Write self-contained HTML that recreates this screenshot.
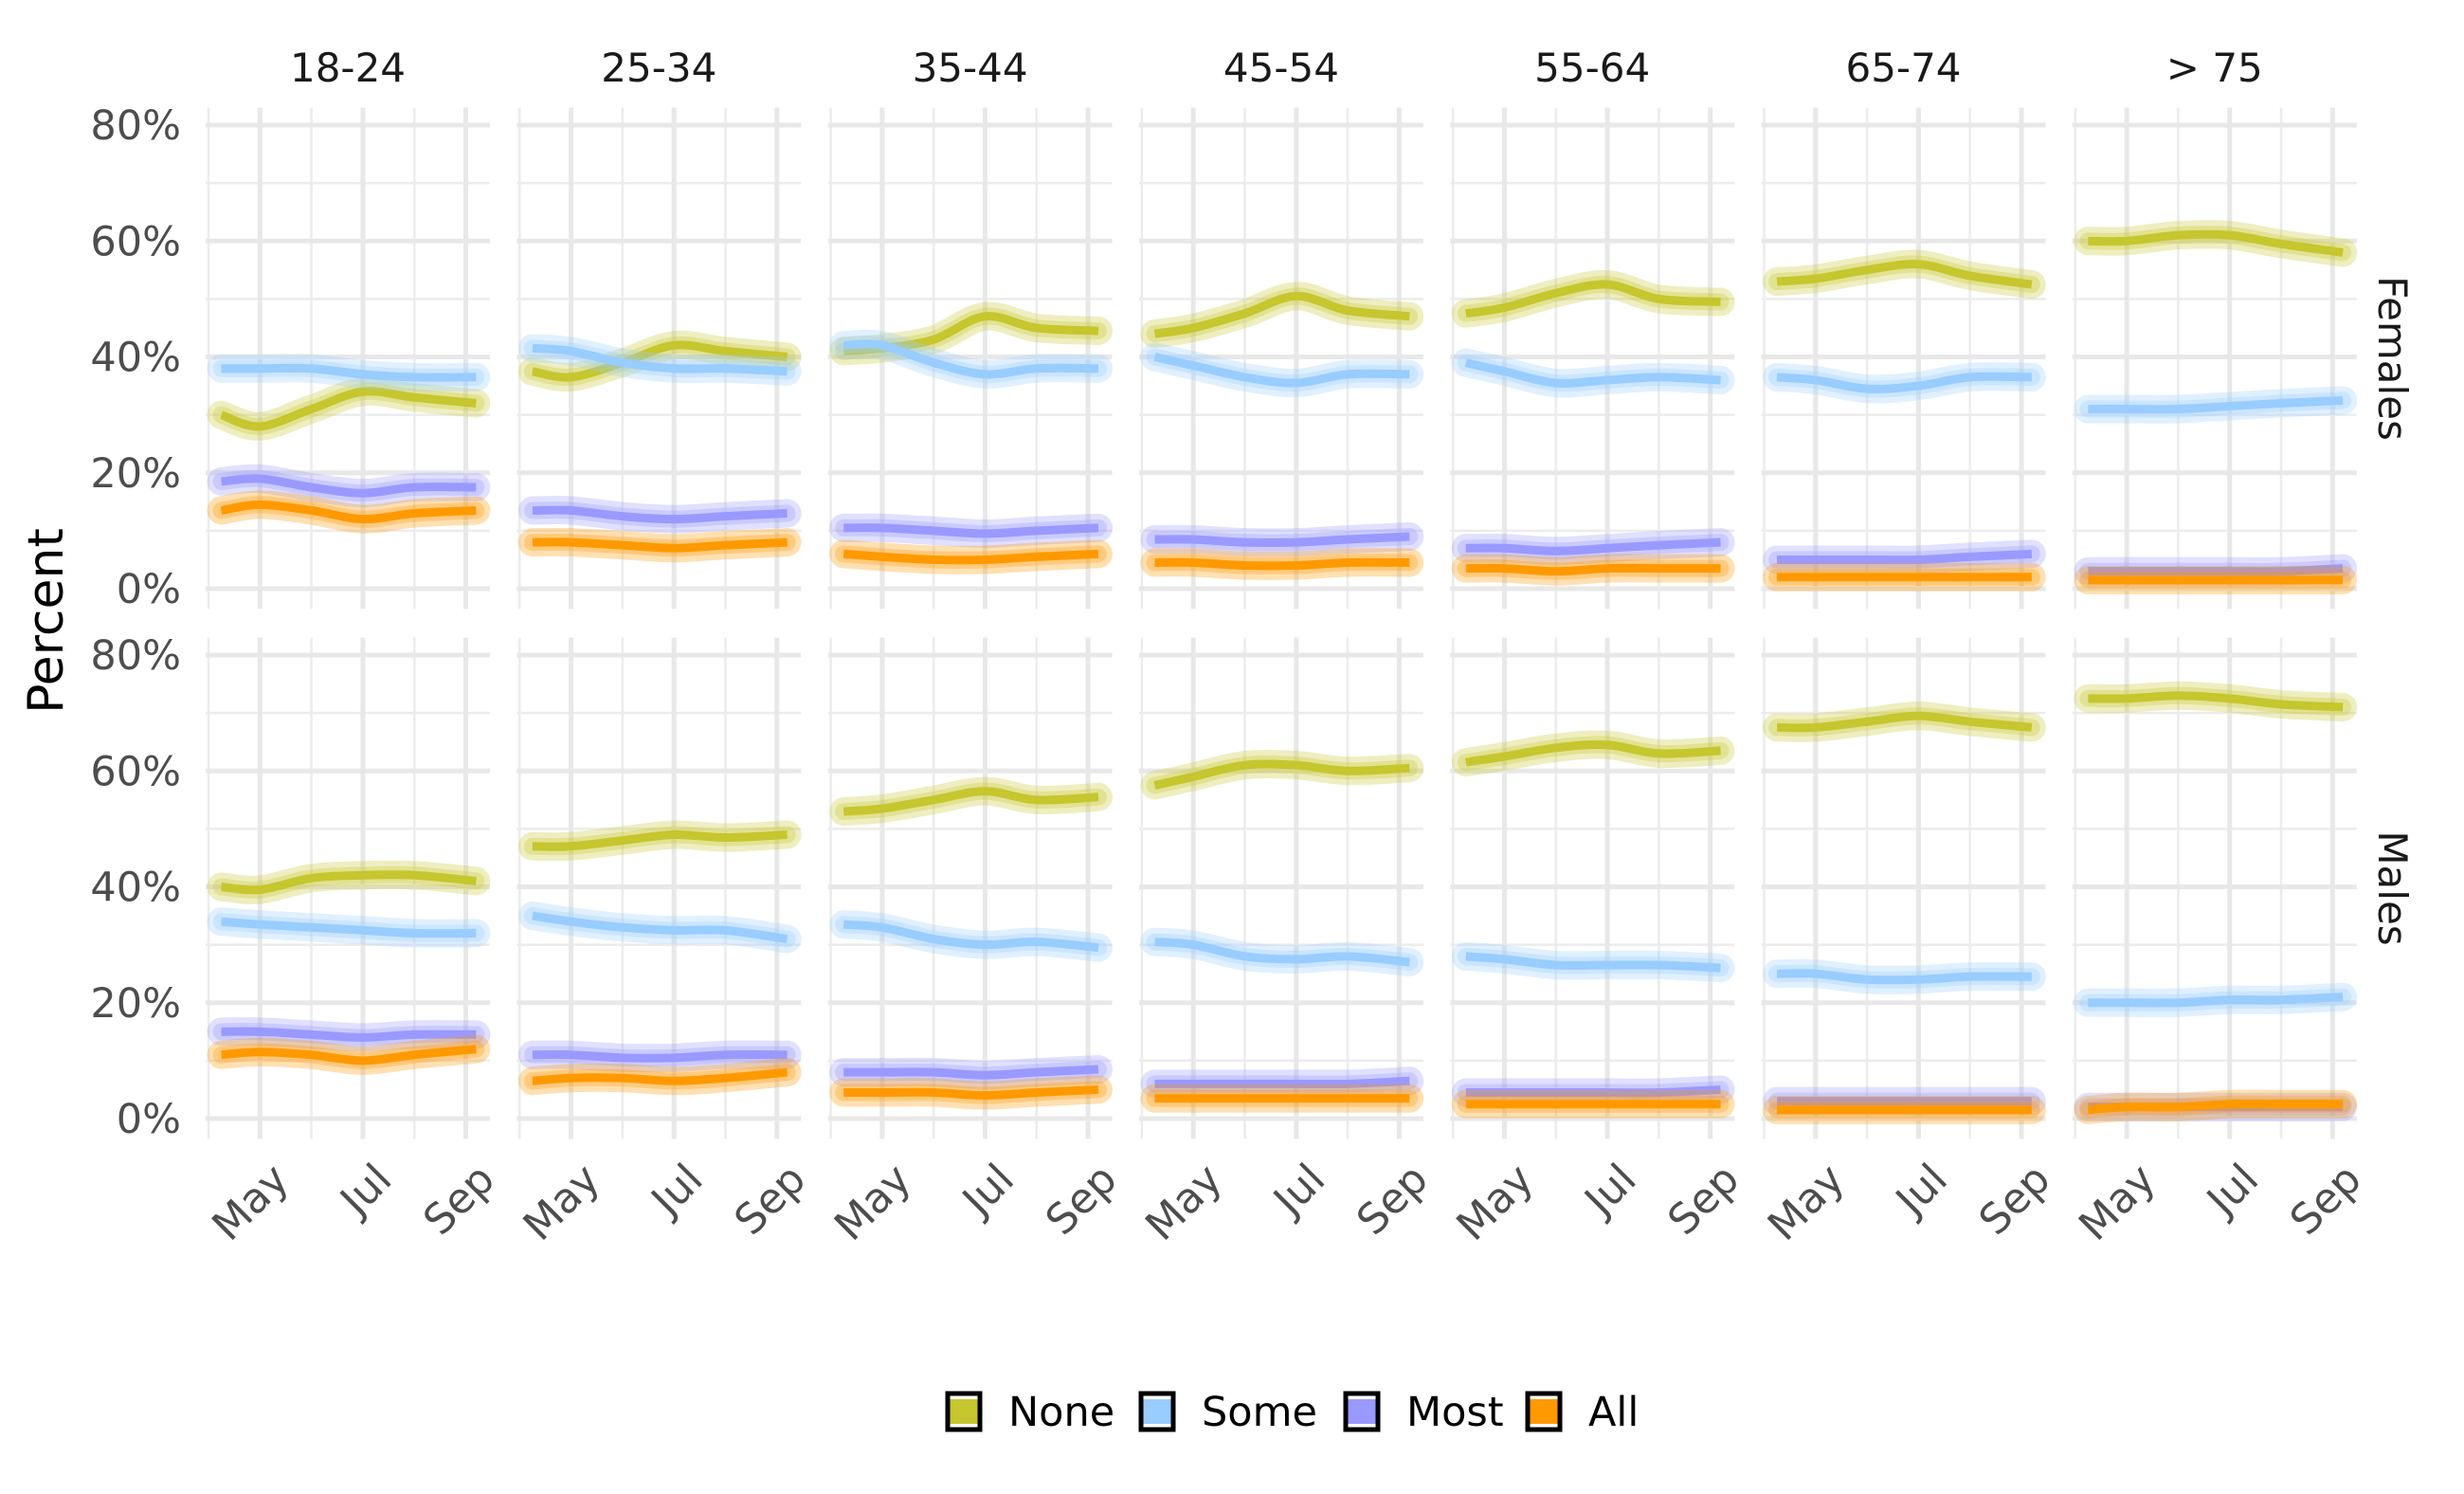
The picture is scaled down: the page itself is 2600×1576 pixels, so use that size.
<!DOCTYPE html>
<html><head><meta charset="utf-8">
<style>
html,body{margin:0;padding:0;background:#fff;}
svg{display:block;font-family:"DejaVu Sans","Liberation Sans",sans-serif;}
</style></head>
<body>
<svg id="chart" width="2600" height="1576" viewBox="0 0 2600 1576" xmlns="http://www.w3.org/2000/svg"></svg>
<script>
const ageGroups = ["18-24","25-34","35-44","45-54","55-64","65-74","> 75"];
const sexes = ["Females","Males"];
const categories = ["None","Some","Most","All"];
const colors = ["#c6c62e","#99ccff","#9999ff","#ff9900"];
const monthPoints = [0.25,1,2,3,4,5.2];
const yTicks = [0,20,40,60,80];
const yTickLabels = ["0%","20%","40%","60%","80%"];
const xTicks = [1,3,5];
const xTickLabels = ["May","Jul","Sep"];

// Females: [ageGroup][category]
const femNone = [[30,28,31,34,33,32],[37.5,36.5,39,42,41,40],[41,41.5,43,47,45,44.5],[44,45,47.5,50.5,48,47],[47.5,48.5,51,52.5,50,49.5],[53,53.5,55,56,54,52.5],[60,60,61,61,59.5,58]];
const femSome = [[38,38,38,37,36.5,36.5],[41.5,41,39,38,38,37.5],[42,42,39,37,38,38],[40,38.5,36.5,35.5,37,37],[39,37.5,35.5,36,36.5,36],[36.5,36,34.5,35,36.5,36.5],[31,31,31,31.5,32,32.5]];
const femMost = [[18.5,19,17.5,16.5,17.5,17.5],[13.5,13.5,12.5,12,12.5,13],[10.5,10.5,10,9.5,10,10.5],[8.5,8.5,8,8,8.5,9],[7,7,6.5,7,7.5,8],[5,5,5,5,5.5,6],[3,3,3,3,3,3.5]];
const femAll = [[13.5,14.5,13.5,12,13,13.5],[8,8,7.5,7,7.5,8],[6,5.5,5,5,5.5,6],[4.5,4.5,4,4,4.5,4.5],[3.5,3.5,3,3.5,3.5,3.5],[2,2,2,2,2,2],[1.5,1.5,1.5,1.5,1.5,1.5]];
// Males
const maleNone = [[40,39.5,41.5,42,42,41],[47,47,48,49,48.5,49],[53,53.5,55,56.5,55,55.5],[57.5,59,61,61,60,60.5],[61.5,62.5,64,64.5,63,63.5],[67.5,67.5,68.5,69.5,68.5,67.5],[72.5,72.5,73,72.5,71.5,71]];
const maleSome = [[34,33.5,33,32.5,32,32],[35,34,33,32.5,32.5,31],[33.5,33,31,30,30.5,29.5],[30.5,30,28,27.5,28,27],[28,27.5,26.5,26.5,26.5,26],[25,25,24,24,24.5,24.5],[20,20,20,20.5,20.5,21]];
const maleMost = [[15,15,14.5,14,14.5,14.5],[11,11,10.5,10.5,11,11],[8,8,8,7.5,8,8.5],[6,6,6,6,6,6.5],[4.5,4.5,4.5,4.5,4.5,5],[3,3,3,3,3,3],[2,2,2,2,2,2]];
const maleAll = [[11,11.5,11,10,11,12],[6.5,7,7,6.5,7,8],[4.5,4.5,4.5,4,4.5,5],[3.5,3.5,3.5,3.5,3.5,3.5],[2.5,2.5,2.5,2.5,2.5,2.5],[1.5,1.5,1.5,1.5,1.5,1.5],[1.5,2,2,2.5,2.5,2.5]];

const series = [[femNone,femSome,femMost,femAll],[maleNone,maleSome,maleMost,maleAll]];

const NS = "http://www.w3.org/2000/svg";
const svg = document.getElementById("chart");
function mk(tag, attrs, parent){const e=document.createElementNS(NS,tag);for(const k in attrs)e.setAttribute(k,attrs[k]);(parent||svg).appendChild(e);return e;}

const panelLeft0 = 217, panelPitch = 328.3, panelW = 300;
const rowZero = [621,1180], rowEighty = [132,691];
function xScale(col, t){return panelLeft0 + col*panelPitch + 3 + t*54.3;}
function yScale(row, v){return rowZero[row] - (rowZero[row]-rowEighty[row]) * v/80;}

function smoothPath(pts){
  let d = "M"+pts[0][0]+","+pts[0][1];
  for(let i=0;i<pts.length-1;i++){
    const p0=pts[Math.max(0,i-1)], p1=pts[i], p2=pts[i+1], p3=pts[Math.min(pts.length-1,i+2)];
    const c1x=p1[0]+(p2[0]-p0[0])/6, c1y=p1[1]+(p2[1]-p0[1])/6;
    const c2x=p2[0]-(p3[0]-p1[0])/6, c2y=p2[1]-(p3[1]-p1[1])/6;
    d += " C"+c1x+","+c1y+" "+c2x+","+c2y+" "+p2[0]+","+p2[1];
  }
  return d;
}

for(let r=0;r<2;r++){
  for(let c=0;c<ageGroups.length;c++){
    const g = mk("g",{});
    
    
    const left = panelLeft0 + c*panelPitch;
    const top = yScale(r,83), bot = yScale(r,-3.5);
    for(let v=10; v<=70; v+=20){
      const l=mk("line",{x1:left,x2:left+panelW,y1:yScale(r,v),y2:yScale(r,v),stroke:"#ececec","stroke-width":2.5},g);
      
      
    }
    for(let m=0; m<=4; m+=2){
      const l=mk("line",{x1:xScale(c,m),x2:xScale(c,m),y1:top,y2:bot,stroke:"#ececec","stroke-width":2.5},g);
      
      
    }
    for(const v of yTicks){
      const l=mk("line",{x1:left,x2:left+panelW,y1:yScale(r,v),y2:yScale(r,v),stroke:"#e8e8e8","stroke-width":5},g);
      
      
    }
    for(const m of xTicks){
      const l=mk("line",{x1:xScale(c,m),x2:xScale(c,m),y1:top,y2:bot,stroke:"#e8e8e8","stroke-width":5},g);
      
      
    }
    for(let k=0;k<categories.length;k++){
      const vals = series[r][k][c];
      const pts = vals.map((v,i)=>[xScale(c,monthPoints[i]), yScale(r,v)]);
      const d = smoothPath(pts);
      const band = mk("path",{d:d,fill:"none",stroke:colors[k],"stroke-width":30,"stroke-opacity":0.3,"stroke-linecap":"round"},g);
      
      
      const band2 = mk("path",{d:d,fill:"none",stroke:colors[k],"stroke-width":18,"stroke-opacity":0.3,"stroke-linecap":"round"},g);
      
      
      const line = mk("path",{d:d,fill:"none",stroke:colors[k],"stroke-width":9,"stroke-linecap":"butt"},g);
      
      
    }
    if(r===0){
      const t=mk("text",{x:left+panelW/2,y:86,"text-anchor":"middle","font-size":42,fill:"#1a1a1a"});
      t.textContent=ageGroups[c];
      
      
    }
    if(r===1){
      xTicks.forEach((m,i)=>{
        const x=xScale(c,m)+10, y=1224;
        const t=mk("text",{x:x,y:y,"text-anchor":"end","font-size":44,fill:"#4d4d4d",transform:"rotate(-45 "+x+" "+y+")","dominant-baseline":"hanging"});
        t.textContent=xTickLabels[i];
        
        
      });
    }
  }
  yTicks.forEach((v,i)=>{
    const t=mk("text",{x:191,y:yScale(r,v)+15,"text-anchor":"end","font-size":43,fill:"#4d4d4d"});
    t.textContent=yTickLabels[i];
    
    
  });
  const cy = r===0 ? 378 : 937;
  const s=mk("text",{x:2510,y:cy,"text-anchor":"middle","font-size":42,fill:"#1a1a1a",transform:"rotate(90 2510 "+cy+")"});
  s.textContent=sexes[r];
  
  
}
const yt=mk("text",{x:66,y:655,"text-anchor":"middle","font-size":52,fill:"#000",transform:"rotate(-90 66 655)"});
yt.textContent="Percent";



const legendKeyX = [1000,1204,1420,1612];
const lg = mk("g",{});


categories.forEach((cat,k)=>{
  const x=legendKeyX[k];
  const key=mk("rect",{x:x,y:1470,width:34,height:38,fill:"#fff",stroke:"#000","stroke-width":5},lg);
  
  
  const fillr=mk("rect",{x:x+2.5,y:1476,width:29,height:26,fill:colors[k]},lg);
  
  
  const t=mk("text",{x:x+64,y:1504,"font-size":43,fill:"#000"},lg);
  t.textContent=cat;
  
  
});
</script>
</body></html>
